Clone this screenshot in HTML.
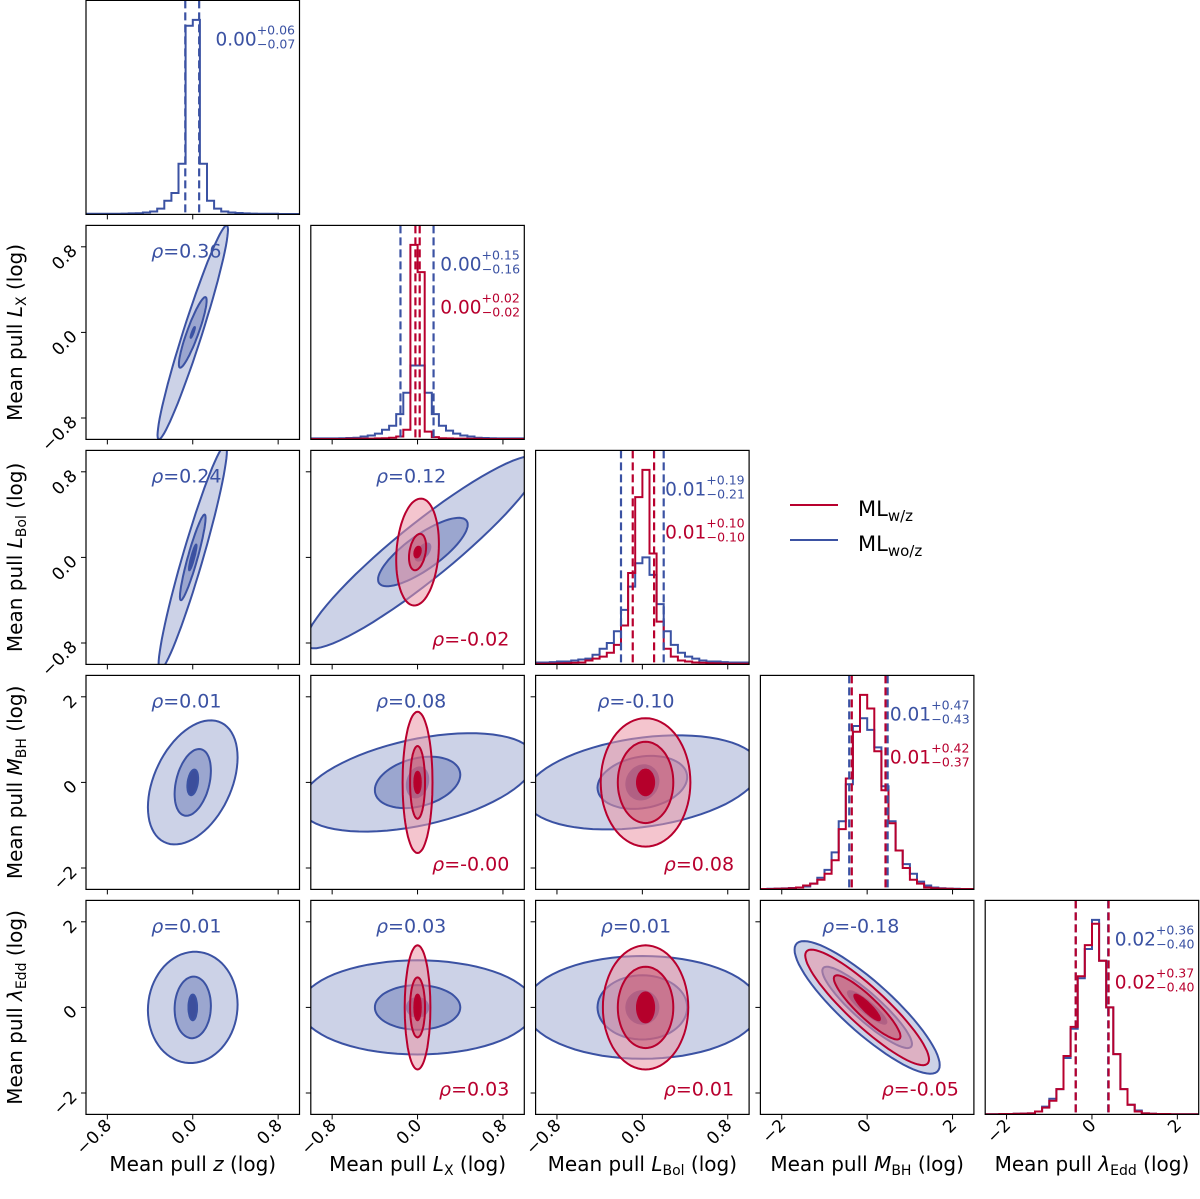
<!DOCTYPE html>
<html><head><meta charset="utf-8">
<style>
html,body{margin:0;padding:0;background:#fff;}
svg{display:block;font-family:"DejaVu Sans","Liberation Sans",sans-serif;}
</style></head>
<body>
<svg id="chart" width="1200" height="1199" viewBox="0 0 1200 1199" xmlns="http://www.w3.org/2000/svg">
<g id="legend">
  <line x1="790" y1="505" x2="838" y2="505" stroke="#b8002e" stroke-width="2"/>
  <text x="858" y="516" font-size="21" fill="#000">ML<tspan font-size="15" dy="5">w/z</tspan></text>
  <line x1="790" y1="540" x2="838" y2="540" stroke="#3b52a3" stroke-width="2"/>
  <text x="858" y="551" font-size="21" fill="#000">ML<tspan font-size="15" dy="5">wo/z</tspan></text>
</g>
</svg>
<script>
// ---------- data ----------
const ranges = [[-1,1],[-1,1],[-1,1],[-2.5,2.5],[-2.5,2.5]];
const ticks = [[-0.8,0,0.8],[-0.8,0,0.8],[-0.8,0,0.8],[-2,0,2],[-2,0,2]];
const tickLabels = [["−0.8","0.0","0.8"],["−0.8","0.0","0.8"],["−0.8","0.0","0.8"],["−2","0","2"],["−2","0","2"]];

const histZBlue = [0.003,0.003,0.003,0.003,0.003,0.004,0.005,0.006,0.01,0.015,0.03,0.07,0.11,0.26,0.97,1.0,0.26,0.07,0.03,0.015,0.01,0.007,0.005,0.004,0.003,0.003,0.003,0.002,0.002,0.002];
const histLxBlue = [0.005,0.005,0.005,0.005,0.006,0.007,0.008,0.015,0.02,0.03,0.05,0.07,0.13,0.24,0.38,0.38,0.24,0.13,0.07,0.045,0.03,0.02,0.015,0.008,0.007,0.006,0.005,0.005,0.005,0.005];
const histLxRed = [0.002,0.002,0.002,0.002,0.002,0.003,0.003,0.004,0.004,0.005,0.006,0.008,0.015,0.05,1.0,0.86,0.04,0.012,0.006,0.005,0.004,0.004,0.003,0.003,0.002,0.002,0.002,0.002,0.002,0.002];
const histLbolBlue = [0.01,0.01,0.012,0.015,0.015,0.02,0.025,0.03,0.05,0.08,0.11,0.17,0.28,0.4,0.52,0.55,0.46,0.31,0.17,0.1,0.06,0.04,0.03,0.02,0.015,0.015,0.012,0.01,0.01,0.01];
const histLbolRed = [0.003,0.003,0.004,0.005,0.006,0.008,0.01,0.02,0.03,0.04,0.06,0.1,0.2,0.47,0.86,1.0,0.57,0.22,0.08,0.04,0.02,0.015,0.01,0.008,0.006,0.005,0.004,0.003,0.003,0.003];
const histMbhBlue = [0.002,0.003,0.004,0.005,0.007,0.01,0.015,0.03,0.06,0.1,0.19,0.35,0.54,0.84,0.88,0.82,0.73,0.53,0.35,0.2,0.13,0.08,0.04,0.02,0.01,0.006,0.004,0.003,0.002,0.002];
const histMbhRed = [0.002,0.002,0.003,0.004,0.006,0.01,0.02,0.03,0.05,0.08,0.15,0.31,0.57,0.81,1.0,0.93,0.71,0.51,0.34,0.2,0.11,0.05,0.03,0.01,0.006,0.004,0.003,0.002,0.002,0.002];
const histLamBlue = [0.001,0.001,0.002,0.002,0.003,0.004,0.005,0.015,0.04,0.08,0.13,0.29,0.44,0.7,0.85,1.0,0.79,0.55,0.31,0.13,0.05,0.02,0.005,0.003,0.002,0.002,0.001,0.001,0.001,0.001];
const histLamRed = [0.001,0.001,0.002,0.002,0.003,0.004,0.005,0.015,0.035,0.07,0.13,0.3,0.45,0.71,0.87,0.98,0.79,0.55,0.31,0.13,0.05,0.015,0.005,0.003,0.002,0.002,0.001,0.001,0.001,0.001];

const quantBlue = [[-0.07,0.06],[-0.16,0.15],[-0.20,0.20],[-0.42,0.48],[-0.38,0.38]];
const quantRed = [null,[-0.02,0.02],[-0.09,0.11],[-0.36,0.43],[-0.38,0.39]];
const titleMed = ["0.00","0.00","0.01","0.01","0.02"];
const titleBluePlus = ["+0.06","+0.15","+0.19","+0.47","+0.36"];
const titleBlueMinus = ["−0.07","−0.16","−0.21","−0.43","−0.40"];
const titleRedMed = [null,"0.00","0.01","0.01","0.02"];
const titleRedPlus = [null,"+0.02","+0.10","+0.42","+0.37"];
const titleRedMinus = [null,"−0.02","−0.10","−0.37","−0.40"];

const contBlue = {
 "1-0": {c:[0,0], lv:[[0.33,1.0,0.96],[0.13,0.33,0.9],[0.02,0.05,0.9]]},
 "2-0": {c:[0,0], lv:[[0.32,1.05,0.95],[0.12,0.4,0.92],[0.035,0.12,0.9]]},
 "2-1": {c:[0.05,0.05], lv:[[1.1,0.9,0.93],[0.42,0.32,0.8],[0.07,0.08,0.6]]},
 "3-0": {c:[0,0], lv:[[0.42,1.45,0.4],[0.17,0.78,0.35],[0.05,0.3,0.3]]},
 "3-1": {c:[0,0], lv:[[1.1,1.15,0.45],[0.4,0.6,0.3],[0.1,0.35,0.2]]},
 "3-2": {c:[0,0], lv:[[1.1,1.1,0.3],[0.42,0.62,0.2],[0.15,0.4,0.1]]},
 "4-0": {c:[0,0], lv:[[0.42,1.3,0.05],[0.17,0.72,0.05],[0.04,0.3,0.0]]},
 "4-1": {c:[0,0], lv:[[1.1,1.1,0.0],[0.4,0.52,0.0],[0.1,0.22,0.0]]},
 "4-2": {c:[0,0], lv:[[1.1,1.2,0.0],[0.42,0.75,0.0],[0.15,0.38,0.0]]},
 "4-3": {c:[0,0], lv:[[1.7,1.55,-0.87],[1.05,0.95,-0.9],[0.45,0.38,-0.9]]}
};
const contRed = {
 "2-1": {c:[0,0.05], lv:[[0.2,0.5,0.15],[0.08,0.17,0.3],[0.03,0.05,0.3]]},
 "3-1": {c:[0,0], lv:[[0.14,1.65,0.0],[0.07,0.85,0.0],[0.03,0.25,0.0]]},
 "3-2": {c:[0.03,0], lv:[[0.42,1.5,0.0],[0.26,0.95,0.0],[0.08,0.3,0.0]]},
 "4-1": {c:[0,0], lv:[[0.12,1.45,0.0],[0.07,0.7,0.0],[0.03,0.3,0.0]]},
 "4-2": {c:[0.03,0], lv:[[0.4,1.45,0.0],[0.26,0.95,0.0],[0.08,0.35,0.0]]},
 "4-3": {c:[0,0], lv:[[1.45,1.35,-0.9],[0.78,0.75,-0.9],[0.3,0.3,-0.9]]}
};
const rhoBlue = {"1-0":"0.36","2-0":"0.24","2-1":"0.12","3-0":"0.01","3-1":"0.08","3-2":"-0.10","4-0":"0.01","4-1":"0.03","4-2":"0.01","4-3":"-0.18"};
const rhoRed = {"2-1":"-0.02","3-1":"-0.00","3-2":"0.08","4-1":"0.03","4-2":"0.01","4-3":"-0.05"};

const xLabels = [["z",""],["L","X"],["L","Bol"],["M","BH"],["λ","Edd"]];

// ---------- drawing ----------
const NS="http://www.w3.org/2000/svg";
const svg=document.getElementById('chart');
const BLUE="#3b52a3", RED="#b8002e";
const PW=213.5, PH=214;
function px(j){return 86+224.8*j;}
function py(i){return 0.4+225*i;}
function mk(tag,attrs,parent){const e=document.createElementNS(NS,tag);for(const k in attrs)e.setAttribute(k,attrs[k]);(parent||svg).appendChild(e);return e;}
function xs(j,v){const r=ranges[j];return px(j)+(v-r[0])/(r[1]-r[0])*PW;}
function ys(i,v){const r=ranges[i];return py(i)+PH-(v-r[0])/(r[1]-r[0])*PH;}

function ellipsePath(i,j,c,lv){
  let d="";
  const n=72;
  for(let k=0;k<=n;k++){
    const t=2*Math.PI*k/n;
    const x=c[0]+lv[0]*Math.cos(t);
    const y=c[1]+lv[1]*(lv[2]*Math.cos(t)+Math.sqrt(1-lv[2]*lv[2])*Math.sin(t));
    d+=(k?"L":"M")+xs(j,x).toFixed(1)+","+ys(i,y).toFixed(1);
  }
  return d+"Z";
}

function histPath(i,arr,ymax){
  const r=ranges[i], n=arr.length, w=(r[1]-r[0])/n;
  const base=py(i)+PH;
  const h=v=>base-v/ymax*PH;
  let d="M"+xs(i,r[0]).toFixed(1)+","+base;
  for(let k=0;k<n;k++){
    const x0=xs(i,r[0]+k*w), x1=xs(i,r[0]+(k+1)*w);
    d+="L"+x0.toFixed(1)+","+h(arr[k]).toFixed(1)+"L"+x1.toFixed(1)+","+h(arr[k]).toFixed(1);
  }
  d+="L"+xs(i,r[1]).toFixed(1)+","+base;
  return d;
}

const histBlue=[histZBlue,histLxBlue,histLbolBlue,histMbhBlue,histLamBlue];
const histRed=[null,histLxRed,histLbolRed,histMbhRed,histLamRed];
const defs=mk('defs',{});

for(let i=0;i<5;i++){
  for(let j=0;j<=i;j++){
    const g=mk('g',{});
    
    
    const cp=mk('clipPath',{id:'cp'+i+j},defs);
    mk('rect',{x:px(j),y:py(i),width:PW,height:PH},cp);
    const inner=mk('g',{'clip-path':'url(#cp'+i+j+')'},g);
    if(i===j){
      const hb=histBlue[i], hr=histRed[i];
      let ymax=Math.max(...hb); if(hr) ymax=Math.max(ymax,...hr); ymax*=1.1;
      const pb=mk('path',{d:histPath(i,hb,ymax),fill:'none',stroke:BLUE,'stroke-width':2},inner);
      
      
      if(hr){
        const pr=mk('path',{d:histPath(i,hr,ymax),fill:'none',stroke:RED,'stroke-width':2},inner);
        
        
      }
      quantBlue[i].forEach(q=>{
        const l=mk('line',{x1:xs(i,q),x2:xs(i,q),y1:py(i),y2:py(i)+PH,stroke:BLUE,'stroke-width':2.2,'stroke-dasharray':'8,4'},inner);
        
        
      });
      if(quantRed[i]) quantRed[i].forEach(q=>{
        const l=mk('line',{x1:xs(i,q),x2:xs(i,q),y1:py(i),y2:py(i)+PH,stroke:RED,'stroke-width':2.2,'stroke-dasharray':'8,4'},inner);
        
        
      });
      const tx=px(i)+PW-84;
      const tb=mk('text',{x:tx,y:py(i)+45,'font-size':18.5,fill:BLUE},g);
      
      
      tb.textContent=titleMed[i];
      mk('tspan',{'font-size':12.5,dy:-11},tb).textContent=titleBluePlus[i];
      mk('tspan',{'font-size':12.5,dx:-38,dy:14},tb).textContent=titleBlueMinus[i];
      if(titleRedMed[i]){
        const tr=mk('text',{x:tx,y:py(i)+88,'font-size':18.5,fill:RED},g);
        
        
        tr.textContent=titleRedMed[i];
        mk('tspan',{'font-size':12.5,dy:-11},tr).textContent=titleRedPlus[i];
        mk('tspan',{'font-size':12.5,dx:-38,dy:14},tr).textContent=titleRedMinus[i];
      }
    } else {
      const key=i+'-'+j;
      const cb=contBlue[key];
      const fillsB=['#ccd2e7','#9ba6cf','#3c4e9c'];
      cb.lv.forEach((lv,k)=>{
        const p=mk('path',{d:ellipsePath(i,j,cb.c,lv),fill:fillsB[k],stroke:'none'},inner);
        
        
      });
      cb.lv.forEach(lv=>{
        const p=mk('path',{d:ellipsePath(i,j,cb.c,lv),fill:'none',stroke:BLUE,'stroke-width':2},inner);
        
        
      });
      const cr=contRed[key];
      if(cr){
        const fillsR=['rgba(235,150,165,0.55)','rgba(205,70,95,0.45)','#b5002b'];
        cr.lv.forEach((lv,k)=>{
          const p=mk('path',{d:ellipsePath(i,j,cr.c,lv),fill:fillsR[k],stroke:'none'},inner);
          
          
        });
        cr.lv.forEach(lv=>{
          const p=mk('path',{d:ellipsePath(i,j,cr.c,lv),fill:'none',stroke:RED,'stroke-width':2},inner);
          
          
        });
      }
      const rb=mk('text',{x:px(j)+PW*0.47,y:py(i)+32,'font-size':19,fill:BLUE,'text-anchor':'middle'},g);
      
      
      rb.innerHTML='<tspan font-style="italic">ρ</tspan>='+rhoBlue[key];
      if(rhoRed[key]){
        const rr=mk('text',{x:px(j)+PW-15,y:py(i)+PH-19,'font-size':19,fill:RED,'text-anchor':'end'},g);
        
        
        rr.innerHTML='<tspan font-style="italic">ρ</tspan>='+rhoRed[key];
      }
      ticks[i].forEach((t,k)=>{
        mk('line',{x1:px(j),x2:px(j)-5,y1:ys(i,t),y2:ys(i,t),stroke:'#000','stroke-width':1},g);
        if(j===0){
          const y=ys(i,t);
          const tl=mk('text',{x:0,y:0,'font-size':17,fill:'#000','text-anchor':'end',transform:`translate(${px(0)-8},${y+5}) rotate(-45)`},g);
          
          
          tl.textContent=tickLabels[i][k];
        }
      });
    }
    ticks[j].forEach((t,k)=>{
      mk('line',{x1:xs(j,t),x2:xs(j,t),y1:py(i)+PH,y2:py(i)+PH+5,stroke:'#000','stroke-width':1},g);
      if(i===4){
        const x=xs(j,t);
        const tl=mk('text',{x:0,y:0,'font-size':17,fill:'#000','text-anchor':'end',transform:`translate(${x+5},${py(4)+PH+12}) rotate(-45)`},g);
        
        
        tl.textContent=tickLabels[j][k];
      }
    });
    mk('rect',{x:px(j),y:py(i),width:PW,height:PH,fill:'none',stroke:'#000','stroke-width':1.2},g);
  }
}
for(let j=0;j<5;j++){
  const t=mk('text',{x:px(j)+PW/2,y:1171,'font-size':20,'text-anchor':'middle',fill:'#000'});
  
  
  const sub=xLabels[j][1]?`<tspan font-size="14" dy="4">${xLabels[j][1]}</tspan><tspan dy="-4"> (log)</tspan>`:' (log)';
  t.innerHTML=`Mean pull <tspan font-style="italic">${xLabels[j][0]}</tspan>`+sub;
}
for(let i=1;i<5;i++){
  const cy=py(i)+PH/2;
  const t=mk('text',{x:0,y:0,'font-size':20,'text-anchor':'middle',fill:'#000',transform:`translate(22,${cy}) rotate(-90)`});
  
  
  t.innerHTML=`Mean pull <tspan font-style="italic">${xLabels[i][0]}</tspan><tspan font-size="14" dy="4">${xLabels[i][1]}</tspan><tspan dy="-4"> (log)</tspan>`;
}
</script>
</body></html>
